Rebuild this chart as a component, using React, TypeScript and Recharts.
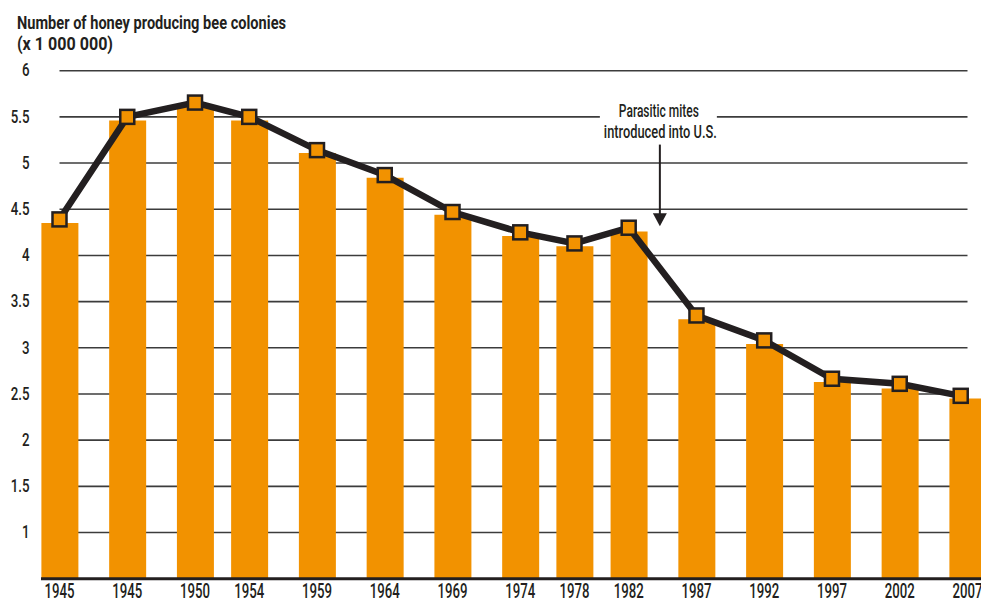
import React from 'react';
import { ComposedChart, Bar, Line, XAxis, YAxis, CartesianGrid, ReferenceLine } from 'recharts';

const positions = [1940, 1945, 1950, 1954, 1959, 1964, 1969, 1974, 1978, 1982, 1987, 1992, 1997, 2002, 2007];
const xLabels = ['1945', '1945', '1950', '1954', '1959', '1964', '1969', '1974', '1978', '1982', '1987', '1992', '1997', '2002', '2007'];
const barValues = [4.35, 5.46, 5.62, 5.46, 5.11, 4.84, 4.44, 4.21, 4.1, 4.26, 3.31, 3.04, 2.63, 2.56, 2.45];
const lineX = [1940, 1945, 1950, 1954, 1959, 1964, 1969, 1974, 1978, 1982, 1987, 1992, 1997, 2002, 2006.5];
const lineValues = [4.39, 5.5, 5.655, 5.5, 5.14, 4.87, 4.47, 4.25, 4.13, 4.3, 3.35, 3.08, 2.665, 2.61, 2.48];
const yTicks = [1, 1.5, 2, 2.5, 3, 3.5, 4, 4.5, 5, 5.5, 6];
const titleLines = ['Number of honey producing bee colonies', '(x 1 000 000)'];
const noteLines = ['Parasitic mites', 'introduced into U.S.'];
const noteX = 1984.3;
const noteTop = 5.2;
const noteTip = 4.315;

const barData = positions.map((x, i) => ({ x, v: barValues[i] }));
const lineData = lineX.map((x, i) => ({ x, v: lineValues[i] }));

const FONT = 'Roboto, "Noto Sans", "Liberation Sans", sans-serif';
const ORANGE = '#F29200';
const INK = '#231F20';

const SquareDot = (props: any) => {
  const { cx, cy, index } = props;
  if (cx == null || cy == null) return null;
  return <rect key={`d${index}`} x={cx - 7} y={cy - 7} width={14} height={14} fill={ORANGE} stroke={INK} strokeWidth={2.5} />;
};

const XTick = (props: any) => {
  const { x, y, index } = props;
  return (
    <text x={x} y={y + 18.8} textAnchor="middle" fontFamily={FONT} fontWeight={500} fontSize={19.5} fill={INK} textLength={30} lengthAdjust="spacingAndGlyphs">
      {xLabels[index]}
    </text>
  );
};

const YTick = (props: any) => {
  const { x, y, payload } = props;
  return (
    <text transform={`translate(${x},${y}) scale(0.76,1)`} x={0} y={0} dy="0.33em" textAnchor="end" fontFamily={FONT} fontWeight={500} fontSize={17.5} fill={INK}>
      {String(payload.value)}
    </text>
  );
};

const ArrowNote = (props: any) => {
  const { x1, y1, y2 } = props;
  return (
    <g>
      <rect x={x1 - 60} y={y1 - 46} width={117} height={44} fill="#fff" />
      <text x={x1 - 1} y={y1 - 27.5} textAnchor="middle" fontFamily={FONT} fontWeight={500} fontSize={19} fill={INK} textLength={80} lengthAdjust="spacingAndGlyphs">{noteLines[0]}</text>
      <text x={x1 + 0.5} y={y1 - 6.5} textAnchor="middle" fontFamily={FONT} fontWeight={500} fontSize={19} fill={INK} textLength={113} lengthAdjust="spacingAndGlyphs">{noteLines[1]}</text>
      <line x1={x1} y1={y1} x2={x1} y2={y2 - 11} stroke={INK} strokeWidth={2} />
      <polygon points={`${x1 - 7},${y2 - 13} ${x1 + 7},${y2 - 13} ${x1},${y2}`} fill={INK} />
    </g>
  );
};

const BaseLine = (props: any) => {
  const { x1, x2, y1 } = props;
  return <line x1={x1 - 18.5} x2={x2 + 40} y1={y1} y2={y1} stroke={INK} strokeWidth={3} />;
};

export default function App() {
  return (
    <div style={{ position: 'fixed', left: 0, top: 0, width: 981, height: 598, overflow: 'hidden', background: '#fff' }}>
      <svg width={981} height={60} style={{ position: 'absolute', left: 0, top: 0, zIndex: 2 }}>
        <text x={17} y={29.3} fontFamily={FONT} fontWeight="bold" fontSize={17.5} fill={INK} textLength={269} lengthAdjust="spacingAndGlyphs">{titleLines[0]}</text>
        <text x={17} y={50} fontFamily={FONT} fontWeight="bold" fontSize={17.5} fill={INK} textLength={96} lengthAdjust="spacingAndGlyphs">{titleLines[1]}</text>
      </svg>
      <ComposedChart width={1000} height={598} data={barData} margin={{ top: 70.7, right: 32.5, bottom: 0, left: 0 }}>
        <CartesianGrid horizontal vertical={false} stroke="#3c3c3c" strokeWidth={1.6} />
        <XAxis
          dataKey="x"
          type="number"
          domain={[1940, 2007]}
          ticks={positions}
          height={19.3}
          axisLine={false}
          tickLine={false}
          tickSize={0}
          tickMargin={0}
          interval={0}
          tick={<XTick />}
        />
        <XAxis xAxisId="line" dataKey="x" type="number" domain={[1940, 2007]} hide />
        <YAxis
          type="number"
          domain={[0.5, 6]}
          ticks={yTicks}
          width={59.5}
          axisLine={false}
          tickLine={false}
          tickSize={0}
          tickMargin={30}
          interval={0}
          tick={<YTick />}
        />
        <Bar dataKey="v" fill={ORANGE} barSize={37} isAnimationActive={false} />
        <Line xAxisId="line" data={lineData} dataKey="v" type="linear" stroke={INK} strokeWidth={6.5} dot={<SquareDot />} activeDot={false} isAnimationActive={false} />
        <ReferenceLine y={0.5} shape={<BaseLine />} ifOverflow="visible" />
        <ReferenceLine segment={[{ x: noteX, y: noteTop }, { x: noteX, y: noteTip }]} shape={<ArrowNote />} ifOverflow="visible" />
      </ComposedChart>
    </div>
  );
}
